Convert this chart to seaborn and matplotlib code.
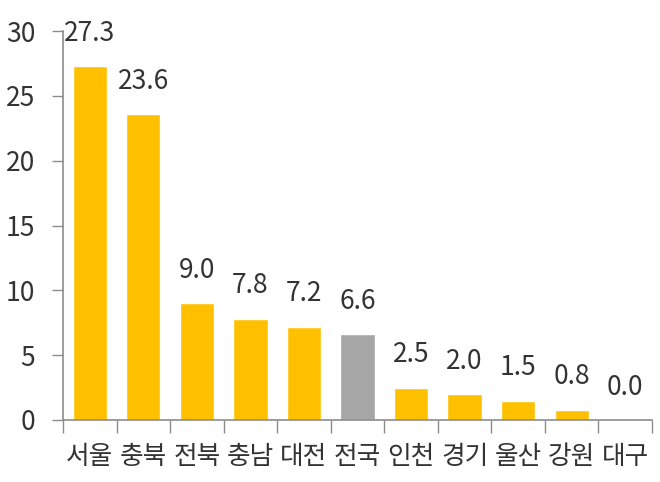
import matplotlib
matplotlib.use("Agg")
import matplotlib.pyplot as plt
import seaborn as sns
import pandas as pd
import numpy as np
from matplotlib.ticker import MultipleLocator, FixedLocator

regions = ["서울", "충북", "전북", "충남", "대전", "전국", "인천", "경기", "울산", "강원", "대구"]
values = [27.3, 23.6, 9.0, 7.8, 7.2, 6.6, 2.5, 2.0, 1.5, 0.8, 0.0]
value_labels = ["27.3", "23.6", "9.0", "7.8", "7.2", "6.6", "2.5", "2.0", "1.5", "0.8", "0.0"]
kind = ["지역" if r != "전국" else "전국" for r in regions]

sns.set_style("white")
plt.rcParams['font.family'] = ['Noto Sans CJK KR', 'DejaVu Sans']
plt.rcParams['font.weight'] = 'light'

df = pd.DataFrame({"region": regions, "value": values, "kind": kind})
palette = {"지역": "#FFC000", "전국": "#A6A6A6"}

fig = plt.figure(figsize=(6.6, 4.82), dpi=100)
ax = fig.add_axes([63/660, 1-420/482, (652-63)/660, (420-31)/482])
sns.barplot(data=df, x="region", y="value", hue="kind", palette=palette,
            dodge=False, width=0.64, legend=False, ax=ax, saturation=1)

text_color = "#333333"
for i, (v, lab) in enumerate(zip(values, value_labels)):
    ax.annotate(lab, (i, v), xytext=(0, 14), textcoords="offset points",
                ha="center", va="bottom", fontsize=19, color=text_color)

ax.set_ylim(0, 30)
ax.set_xlim(-0.5, len(regions) - 0.5)
ax.yaxis.set_major_locator(MultipleLocator(5))
ax.set_xlabel("")
ax.set_ylabel("")
ax.xaxis.set_minor_locator(FixedLocator(np.arange(-0.5, len(regions), 1.0)))
ax.tick_params(axis="x", which="major", bottom=True, length=0, labelsize=18.5,
               labelcolor=text_color, pad=17)
ax.tick_params(axis="x", which="minor", bottom=True, length=9, width=1,
               color="#8C8C8C", direction="out")
ax.tick_params(axis="y", which="major", left=True, length=8, width=1, color="#8C8C8C",
               direction="out", labelsize=19, labelcolor=text_color, pad=12)
for s in ["top", "right"]:
    ax.spines[s].set_visible(False)
for s in ["left", "bottom"]:
    ax.spines[s].set_color("#8C8C8C")
    ax.spines[s].set_linewidth(1.2)

fig.savefig("out.png", dpi=100)
